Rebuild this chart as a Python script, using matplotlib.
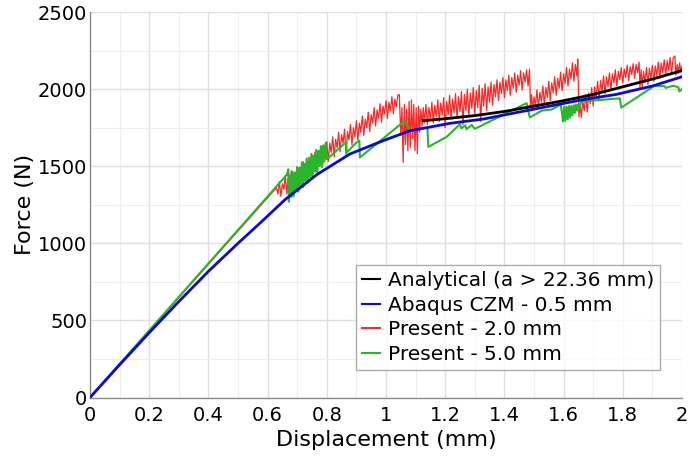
import matplotlib
matplotlib.use("Agg")
import matplotlib.pyplot as plt
from matplotlib.ticker import MultipleLocator

# ---------------- data ----------------
analytical_x = [1.126, 1.2, 1.3, 1.4, 1.5, 1.6, 1.7, 1.8, 1.9, 2.0]
analytical_y = [1795, 1808, 1828, 1855, 1890, 1925, 1965, 2015, 2065, 2120]

abaqus_x = [0, 0.1, 0.2, 0.3, 0.4, 0.5, 0.574, 0.66, 0.766, 0.878, 0.991, 1.081,
            1.216, 1.329, 1.5, 1.667, 1.779, 1.9, 2.0]
abaqus_y = [0, 212, 420, 622, 818, 1000, 1130, 1285, 1445, 1579, 1666, 1730,
            1778, 1806, 1870, 1932, 1966, 2020, 2080]

# Present - 2.0 mm : (x, force) pairs
present2_pts = [
    (0, 0), (0.630, 1360), (0.635, 1320), (0.640, 1400), (0.645, 1305), (0.650, 1385),
    (0.655, 1350), (0.660, 1440), (0.665, 1320), (0.670, 1430), (0.675, 1380),
    (0.680, 1470), (0.685, 1350), (0.690, 1455), (0.695, 1400), (0.700, 1495),
    (0.705, 1385), (0.710, 1480), (0.715, 1430), (0.720, 1530), (0.725, 1410),
    (0.730, 1520), (0.735, 1470), (0.740, 1560), (0.745, 1445), (0.750, 1545),
    (0.755, 1490), (0.760, 1590), (0.765, 1470), (0.770, 1580), (0.775, 1520),
    (0.780, 1625), (0.785, 1500), (0.790, 1615), (0.795, 1560), (0.800, 1660),
    (0.805, 1530), (0.810, 1650), (0.815, 1590), (0.820, 1690), (0.825, 1560),
    (0.830, 1675), (0.835, 1620), (0.840, 1720), (0.845, 1595), (0.850, 1705),
    (0.855, 1650), (0.860, 1740), (0.865, 1575), (0.870, 1725), (0.875, 1670),
    (0.880, 1770), (0.885, 1640), (0.890, 1750), (0.895, 1690), (0.900, 1795),
    (0.905, 1670), (0.910, 1780), (0.915, 1720), (0.920, 1825), (0.925, 1700),
    (0.930, 1805), (0.935, 1750), (0.940, 1850), (0.945, 1725), (0.950, 1835),
    (0.955, 1780), (0.960, 1880), (0.965, 1760), (0.970, 1865), (0.975, 1810),
    (0.980, 1905), (0.985, 1785), (0.990, 1890), (0.995, 1840), (1.000, 1925),
    (1.005, 1810), (1.010, 1915), (1.015, 1860), (1.020, 1950), (1.025, 1840),
    (1.030, 1935), (1.035, 1885), (1.040, 1960), (1.045, 1965),
    (1.050, 1700), (1.054, 1880), (1.058, 1525), (1.062, 1900), (1.066, 1640),
    (1.070, 1870), (1.074, 1600), (1.078, 1920), (1.082, 1620), (1.086, 1930),
    (1.090, 1680), (1.094, 1900), (1.098, 1600), (1.102, 1880), (1.106, 1580),
    (1.110, 1890), (1.114, 1720), (1.118, 1870), (1.122, 1760), (1.126, 1880),
    (1.130, 1780), (1.135, 1900), (1.140, 1770), (1.145, 1880), (1.150, 1805),
    (1.155, 1915), (1.160, 1780), (1.165, 1895), (1.170, 1820), (1.175, 1930),
    (1.180, 1790), (1.185, 1910), (1.190, 1830), (1.195, 1945), (1.200, 1750),
    (1.205, 1920), (1.210, 1835), (1.215, 1960), (1.220, 1805), (1.225, 1935),
    (1.230, 1845), (1.235, 1970), (1.240, 1815), (1.245, 1950), (1.250, 1855),
    (1.255, 1985), (1.260, 1770), (1.265, 1965), (1.270, 1860), (1.275, 2000),
    (1.280, 1830), (1.285, 1975), (1.290, 1875), (1.295, 2010), (1.300, 1840),
    (1.305, 1990), (1.310, 1880), (1.315, 2025), (1.320, 1790), (1.325, 2005),
    (1.330, 1890), (1.335, 2035), (1.340, 1860), (1.345, 2015), (1.350, 1915),
    (1.355, 2045), (1.360, 1895), (1.365, 2030), (1.370, 1950), (1.375, 2060),
    (1.380, 1925), (1.385, 2045), (1.390, 1970), (1.395, 2075), (1.400, 1945),
    (1.405, 2060), (1.410, 1990), (1.415, 2090), (1.420, 1960), (1.425, 2075),
    (1.430, 2005), (1.435, 2105), (1.440, 1980), (1.445, 2090), (1.450, 2025),
    (1.455, 2120), (1.460, 1995), (1.465, 2105), (1.470, 2045), (1.475, 2125),
    (1.480, 2020), (1.485, 2130),
    (1.488, 1880), (1.492, 1965), (1.496, 1865), (1.500, 1950), (1.505, 1895),
    (1.510, 1995), (1.515, 1880), (1.520, 1980), (1.525, 1915), (1.530, 2020),
    (1.535, 1900), (1.540, 2010), (1.545, 1945), (1.550, 2050), (1.555, 1925),
    (1.560, 2040), (1.565, 1975), (1.570, 2080), (1.575, 1960), (1.580, 2070),
    (1.585, 2005), (1.590, 2110), (1.595, 1990), (1.600, 2100), (1.605, 2035),
    (1.610, 2140), (1.615, 2020), (1.620, 2130), (1.625, 2065), (1.630, 2170),
    (1.635, 2050), (1.640, 2160), (1.645, 2085), (1.648, 2195),
    (1.652, 1820), (1.656, 1905), (1.660, 1815), (1.665, 1920), (1.670, 1860),
    (1.675, 1965), (1.680, 1850), (1.685, 1975), (1.690, 1905), (1.695, 2010),
    (1.700, 1890), (1.705, 2015), (1.710, 1945), (1.715, 2050), (1.720, 1935),
    (1.725, 2055), (1.730, 1985), (1.735, 2085), (1.740, 1970), (1.745, 2080),
    (1.750, 2015), (1.755, 2105), (1.760, 1995), (1.765, 2100), (1.770, 2040),
    (1.775, 2125), (1.780, 2020), (1.785, 2115), (1.790, 2060), (1.795, 2140),
    (1.800, 2040), (1.805, 2130), (1.810, 2075), (1.815, 2155), (1.820, 2055),
    (1.825, 2145), (1.830, 2095), (1.835, 2165), (1.840, 2070), (1.845, 2160),
    (1.850, 2105), (1.855, 2175),
    (1.858, 2010), (1.862, 2125), (1.866, 2010), (1.870, 2115), (1.875, 2045),
    (1.880, 2140), (1.885, 2030), (1.890, 2135), (1.895, 2065), (1.900, 2155),
    (1.905, 2050), (1.910, 2150), (1.915, 2085), (1.920, 2175), (1.925, 2070),
    (1.930, 2170), (1.935, 2105), (1.940, 2190), (1.945, 2090), (1.950, 2185),
    (1.955, 2120), (1.960, 2205), (1.965, 2100), (1.970, 2200), (1.976, 2215),
    (1.979, 2090), (1.984, 2160), (1.988, 2100), (1.992, 2170), (1.996, 2110),
    (2.000, 2150),
]
present2_x = [p[0] for p in present2_pts]
present2_y = [p[1] for p in present2_pts]

# Present - 5.0 mm
present5_pts = [
    (0, 0), (0.665, 1445), (0.670, 1480), (0.672, 1270), (0.676, 1440), (0.680, 1300),
    (0.684, 1465), (0.688, 1305), (0.692, 1460), (0.696, 1345), (0.700, 1495),
    (0.704, 1335), (0.708, 1490), (0.712, 1375), (0.716, 1525), (0.720, 1365),
    (0.724, 1515), (0.728, 1405), (0.732, 1550), (0.736, 1395), (0.740, 1545),
    (0.744, 1430), (0.748, 1580), (0.752, 1430), (0.756, 1570), (0.760, 1465),
    (0.764, 1605), (0.768, 1460), (0.772, 1600), (0.776, 1500), (0.780, 1630),
    (0.784, 1495), (0.788, 1635), (0.792, 1530), (0.796, 1650), (0.800, 1545),
    (0.865, 1655), (0.868, 1590), (0.901, 1655), (0.910, 1666), (0.912, 1557),
    (1.064, 1795), (1.080, 1730), (1.140, 1750), (1.143, 1625), (1.205, 1690),
    (1.250, 1773), (1.255, 1745), (1.268, 1765), (1.272, 1740), (1.290, 1768),
    (1.300, 1742), (1.340, 1780), (1.475, 1909), (1.486, 1816), (1.526, 1860),
    (1.560, 1868), (1.590, 1900), (1.595, 1840), (1.598, 1790), (1.602, 1885),
    (1.606, 1795), (1.610, 1885), (1.614, 1805), (1.618, 1890), (1.622, 1815),
    (1.626, 1890), (1.630, 1830), (1.634, 1895), (1.638, 1845), (1.642, 1900),
    (1.646, 1860), (1.650, 1900), (1.654, 1875), (1.658, 1910), (1.662, 1920),
    (1.790, 1940), (1.795, 1880), (1.895, 2006), (1.905, 2020), (1.940, 2020),
    (1.945, 2008), (1.970, 2022), (1.988, 2012), (1.991, 1985), (2.000, 2000),
]
present5_x = [p[0] for p in present5_pts]
present5_y = [p[1] for p in present5_pts]

labels = ["Analytical (a > 22.36 mm)", "Abaqus CZM - 0.5 mm",
          "Present - 2.0 mm", "Present - 5.0 mm"]
x_label = "Displacement (mm)"
y_label = "Force (N)"

# ---------------- figure ----------------
plt.rcParams['font.family'] = ['DejaVu Sans']
fig = plt.figure(figsize=(6.89, 4.62), dpi=100)
ax = fig.add_axes([0.1306, 0.1396, 0.8592, 0.8344])

ax.plot(analytical_x, analytical_y, color='#000000', lw=2.0, label=labels[0], zorder=5)
ax.plot(abaqus_x, abaqus_y, color='#0a0ad0', lw=2.0, label=labels[1], zorder=4)
ax.plot(present2_x, present2_y, color='#f52a2a', lw=0.9, label=labels[2], zorder=2)
ax.plot(present5_x, present5_y, color='#2cb52c', lw=1.5, label=labels[3], zorder=3)

ax.set_xlim(0, 2)
ax.set_ylim(0, 2500)
ax.xaxis.set_minor_locator(MultipleLocator(0.1))
ax.yaxis.set_major_locator(MultipleLocator(500))
ax.yaxis.set_minor_locator(MultipleLocator(250))
ax.set_xticks([0, 0.2, 0.4, 0.6, 0.8, 1.0, 1.2, 1.4, 1.6, 1.8, 2.0])
ax.set_xticklabels(['0', '0.2', '0.4', '0.6', '0.8', '1', '1.2', '1.4', '1.6', '1.8', '2'])

ax.grid(which='major', color='#dedede', lw=1.0)
ax.grid(which='minor', color='#efefef', lw=0.8)
ax.set_axisbelow(True)

for s in ['top', 'right']:
    ax.spines[s].set_visible(False)
for s in ['left', 'bottom']:
    ax.spines[s].set_color('#8c8c8c')
    ax.spines[s].set_linewidth(1.0)

ax.tick_params(which='both', length=0, labelsize=14, pad=2, colors='#000000')
ax.tick_params(axis='x', pad=6)
ax.set_xlabel(x_label, fontsize=16, labelpad=4)
ax.set_ylabel(y_label, fontsize=16, labelpad=2)

leg = ax.legend(loc='lower right', bbox_to_anchor=(0.963, 0.071), borderaxespad=0,
                fontsize=14.5, frameon=True, fancybox=False, edgecolor='#999999',
                handlelength=0.9, handletextpad=0.4, labelspacing=0.28,
                borderpad=0.3)
leg.get_frame().set_linewidth(1.0)
for h in leg.get_lines():
    h.set_linewidth(1.5)

fig.savefig("out.png", dpi=100)
